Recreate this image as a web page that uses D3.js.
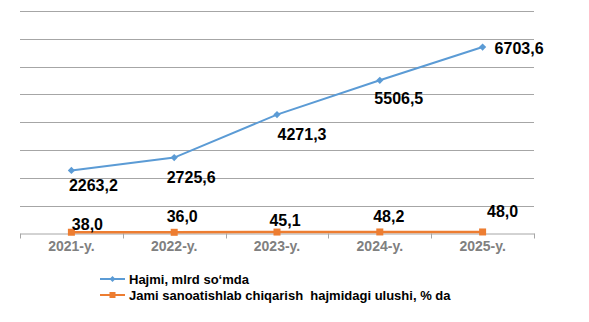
<!DOCTYPE html>
<html><head><meta charset="utf-8">
<script src="https://cdn.jsdelivr.net/npm/d3@7"></script>
<style>
html,body{margin:0;padding:0;background:#fff;}
svg{display:block;font-family:"Liberation Sans",Arial,sans-serif;}
</style></head>
<body>
<svg id="c" width="589" height="322"></svg>
<script>
const categories = ["2021-y.","2022-y.","2023-y.","2024-y.","2025-y."];
const hajmi = [2263.2, 2725.6, 4271.3, 5506.5, 6703.6];
const ulushi = [38.0, 36.0, 45.1, 48.2, 48.0];
const seriesNames = ["Hajmi, mlrd so\u2018mda", "Jami sanoatishlab chiqarish  hajmidagi ulushi, % da"];
const yTicks = [0,1000,2000,3000,4000,5000,6000,7000,8000];
// label offsets (layout, px)
const hajmiLabelOff = [[22,15,"middle"],[17,19.5,"middle"],[25,20,"middle"],[19,18,"middle"],[12,1,"start"]];
const ulushiLabelOff = [[16,-8],[8,-15.5],[8,-12],[9,-16],[20,-20.7]];

const fmt = v => v.toFixed(1).replace(".", ",");
const svg = d3.select("#c");
const x = d3.scaleBand().domain(categories).range([20,534]).padding(0);
const y = d3.scaleLinear().domain([0,8000]).range([233.3,11]);
const cx = d => x(d) + x.bandwidth()/2;

// gridlines
svg.append("g").selectAll("line").data(yTicks.slice(1)).join("line")
  .attr("x1",20).attr("x2",534)
  .attr("y1",d=>Math.round(y(d))+0.5).attr("y2",d=>Math.round(y(d))+0.5)
  .attr("stroke","#a6a6a6").attr("stroke-width",1);

// x axis
const ax = svg.append("g").attr("transform",`translate(0,${Math.round(y(0))+0.5})`)
  .call(d3.axisBottom(x).tickSize(0).tickPadding(0));
ax.select(".domain").attr("stroke","#a6a6a6");
ax.selectAll(".tick text").attr("dy",null).attr("y",17)
  .attr("font-size","14px").attr("font-weight","bold").attr("fill","#808080")
  .attr("font-family","'Liberation Sans',Arial,sans-serif");
const edges = categories.map(c=>x(c)).concat([x.range()[1]]);
ax.selectAll("line.edge").data(edges).join("line").attr("class","edge")
  .attr("x1",d=>Math.round(d)+0.5).attr("x2",d=>Math.round(d)+0.5)
  .attr("y1",0).attr("y2",5).attr("stroke","#a6a6a6");

const blue = "#5b9bd5", orange = "#ed7d31";
const line = d3.line().x((d,i)=>cx(categories[i])).y(d=>y(d));

svg.append("path").datum(ulushi).attr("d",line).attr("fill","none")
  .attr("stroke",orange).attr("stroke-width",2.5);
svg.append("g").selectAll("rect").data(ulushi).join("rect")
  .attr("x",(d,i)=>cx(categories[i])-3.5).attr("y",d=>y(d)-3.5)
  .attr("width",7).attr("height",7).attr("fill",orange);

svg.append("path").datum(hajmi).attr("d",line).attr("fill","none")
  .attr("stroke",blue).attr("stroke-width",2);
const diamond = d3.symbol().type(d3.symbolDiamond2 || d3.symbolSquare2).size(40);
svg.append("g").selectAll("path").data(hajmi).join("path")
  .attr("d", d3.symbol().type(d3.symbolSquare).size(26))
  .attr("transform",(d,i)=>`translate(${cx(categories[i])},${y(d)}) rotate(45)`)
  .attr("fill",blue);

// data labels
svg.append("g").selectAll("text").data(hajmi).join("text")
  .attr("x",(d,i)=>cx(categories[i])+hajmiLabelOff[i][0])
  .attr("y",(d,i)=>y(d)+hajmiLabelOff[i][1]+5.7)
  .attr("text-anchor",(d,i)=>hajmiLabelOff[i][2])
  .attr("font-size","16px").attr("font-weight","bold").attr("fill","#000")
  .text(fmt);
svg.append("g").selectAll("text").data(ulushi).join("text")
  .attr("x",(d,i)=>cx(categories[i])+ulushiLabelOff[i][0])
  .attr("y",(d,i)=>y(d)+ulushiLabelOff[i][1]+5.7)
  .attr("text-anchor","middle")
  .attr("font-size","16px").attr("font-weight","bold").attr("fill","#000")
  .text(fmt);

// legend
const lg = svg.append("g");
const legItems = [{name:seriesNames[0],color:blue,shape:"d",y:279},{name:seriesNames[1],color:orange,shape:"s",y:295}];
legItems.forEach(it=>{
  lg.append("line").attr("x1",100).attr("x2",125).attr("y1",it.y).attr("y2",it.y)
    .attr("stroke",it.color).attr("stroke-width",2);
  if(it.shape==="d"){
    lg.append("path").attr("d",d3.symbol().type(d3.symbolSquare).size(18))
      .attr("transform",`translate(112.5,${it.y}) rotate(45)`).attr("fill",it.color);
  } else {
    lg.append("rect").attr("x",109.5).attr("y",it.y-3).attr("width",6).attr("height",6).attr("fill",it.color);
  }
  lg.append("text").attr("x",129).attr("y",it.y+4.5).attr("font-size","13px")
    .attr("font-weight","bold").attr("fill","#000").attr("xml:space","preserve")
    .style("white-space","pre").text(it.name);
});
</script>
</body></html>
